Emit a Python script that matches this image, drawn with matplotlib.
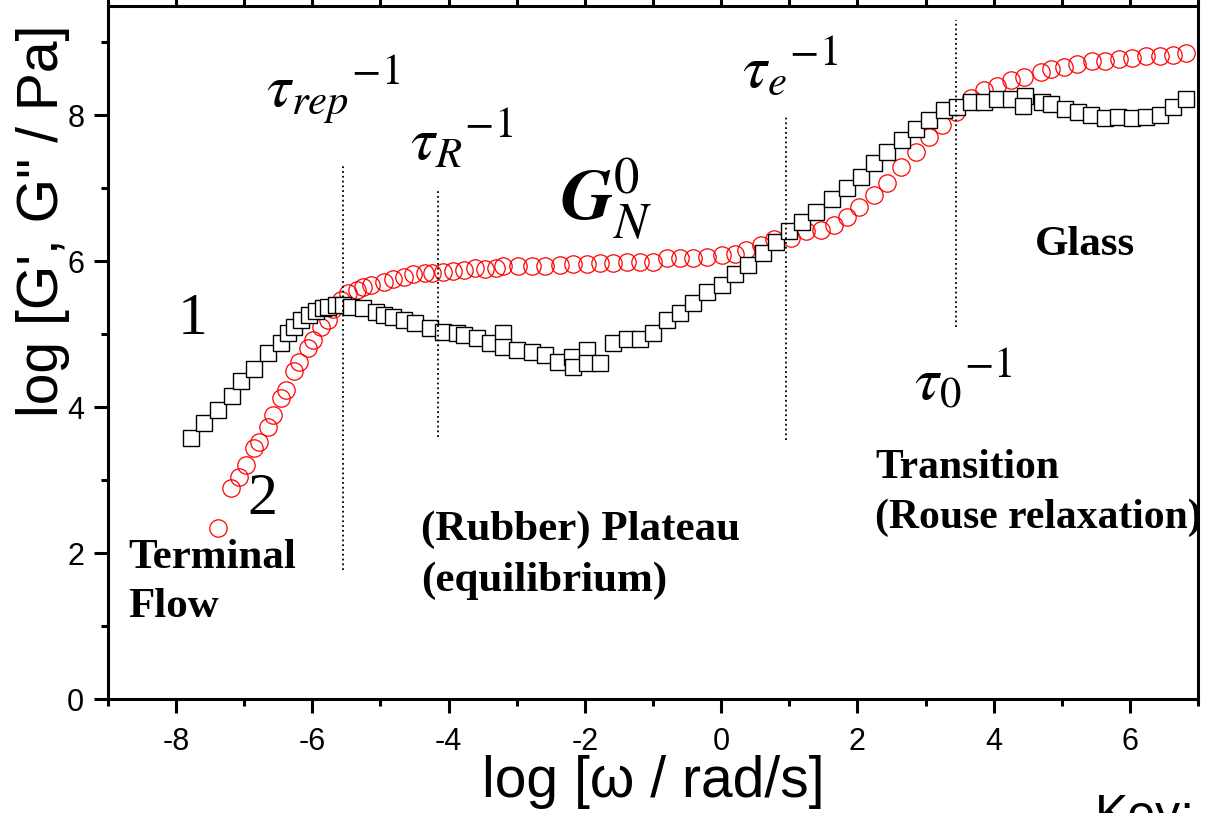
import matplotlib
matplotlib.use('Agg')
import matplotlib.pyplot as plt
from matplotlib.ticker import MultipleLocator

plt.rcParams['font.family'] = 'Liberation Sans'
plt.rcParams['mathtext.fontset'] = 'stix'
plt.rcParams['axes.unicode_minus'] = False

# curve 1: G' (squares)
gp_x = [-7.78, -7.59, -7.39, -7.18, -7.05, -6.86, -6.65, -6.46, -6.36, -6.27,
        -6.17, -6.05, -5.95, -5.85, -5.77, -5.66, -5.55, -5.44, -5.26, -5.07,
        -4.95, -4.82, -4.66, -4.49, -4.27, -4.08, -3.87, -3.78, -3.58, -3.39,
        -3.20, -3.20, -2.99, -2.77, -2.58, -2.39, -2.19, -2.17, -1.97, -1.97,
        -1.78, -1.59, -1.38, -1.19, -1.00, -0.80, -0.61, -0.42, -0.21, 0.01,
        0.20, 0.39, 0.61, 0.81, 1.00, 1.19, 1.40, 1.63, 1.85, 2.06,
        2.25, 2.44, 2.66, 2.86, 3.05, 3.27, 3.46, 3.67, 3.86, 4.05,
        4.25, 4.46, 4.43, 4.71, 4.84, 5.05, 5.24, 5.43, 5.63, 5.82,
        6.03, 6.23, 6.44, 6.64, 6.83]
gp_y = [3.58, 3.79, 3.96, 4.16, 4.36, 4.53, 4.75, 4.88, 5.02, 5.10,
        5.20, 5.27, 5.32, 5.36, 5.38, 5.40, 5.40, 5.38, 5.36, 5.31,
        5.27, 5.24, 5.20, 5.16, 5.09, 5.03, 5.02, 4.99, 4.95, 4.88,
        5.02, 4.83, 4.79, 4.76, 4.72, 4.62, 4.69, 4.55, 4.79, 4.61,
        4.61, 4.88, 4.94, 4.94, 5.02, 5.20, 5.29, 5.43, 5.58, 5.68,
        5.82, 5.95, 6.12, 6.26, 6.41, 6.54, 6.68, 6.85, 7.01, 7.16,
        7.35, 7.50, 7.67, 7.81, 7.94, 8.08, 8.11, 8.18, 8.19, 8.22,
        8.23, 8.26, 8.13, 8.19, 8.16, 8.09, 8.05, 8.01, 7.96, 7.98,
        7.97, 7.98, 8.00, 8.11, 8.22]

# curve 2: G'' (circles)
gpp_x = [-7.39, -7.19, -7.08, -6.98, -6.86, -6.78, -6.65, -6.58, -6.46, -6.39,
         -6.27, -6.20, -6.07, -5.99, -5.88, -5.77, -5.69, -5.58, -5.47, -5.34,
         -5.26, -5.14, -4.95, -4.81, -4.66, -4.52, -4.34, -4.24, -4.08, -3.93,
         -3.78, -3.61, -3.46, -3.31, -3.20, -2.98, -2.77, -2.58, -2.36, -2.17,
         -1.97, -1.78, -1.59, -1.38, -1.19, -1.00, -0.80, -0.61, -0.42, -0.20,
         0.01, 0.20, 0.37, 0.59, 0.78, 1.03, 1.25, 1.47, 1.66, 1.85,
         2.03, 2.25, 2.44, 2.64, 2.86, 3.05, 3.24, 3.45, 3.67, 3.86,
         4.05, 4.25, 4.45, 4.69, 4.84, 5.03, 5.22, 5.44, 5.63, 5.84,
         6.03, 6.23, 6.44, 6.63, 6.83]
gpp_y = [2.35, 2.89, 3.05, 3.21, 3.44, 3.53, 3.73, 3.90, 4.13, 4.24,
         4.49, 4.62, 4.81, 4.92, 5.10, 5.20, 5.34, 5.47, 5.57, 5.61,
         5.65, 5.68, 5.72, 5.76, 5.79, 5.82, 5.84, 5.84, 5.86, 5.87,
         5.88, 5.91, 5.90, 5.91, 5.93, 5.93, 5.94, 5.94, 5.95, 5.97,
         5.97, 5.98, 5.98, 5.99, 5.99, 5.99, 6.05, 6.05, 6.05, 6.06,
         6.08, 6.10, 6.16, 6.23, 6.30, 6.32, 6.41, 6.43, 6.50, 6.61,
         6.75, 6.91, 7.08, 7.30, 7.50, 7.70, 7.87, 8.05, 8.24, 8.35,
         8.40, 8.49, 8.53, 8.59, 8.64, 8.67, 8.71, 8.74, 8.75, 8.78,
         8.79, 8.81, 8.81, 8.83, 8.85]

# relaxation time markers (dotted lines)
tau_x = [-5.55, -4.16, 0.95, 3.45]
tau_ymin = [1.77, 3.59, 3.55, 5.10]
tau_ymax = [7.33, 6.98, 8.01, 9.31]

fig = plt.figure(figsize=(12.05, 8.13), dpi=100)
ax = fig.add_axes([0.0896, 0.1402, 0.9046, 0.8524])

ax.plot(gpp_x, gpp_y, 'o', mfc='none', mec='red', ms=12.5, mew=0.9, ls='none')
ax.plot(gp_x, gp_y, 's', mfc='white', mec='black', ms=12, mew=1.0, ls='none')
ax.vlines(tau_x, tau_ymin, tau_ymax, colors='black', linestyles=':', lw=1.3)

ax.set_xlim(-9, 7)
ax.set_ylim(0, 9.5)
ax.xaxis.set_major_locator(MultipleLocator(2))
ax.xaxis.set_minor_locator(MultipleLocator(1))
ax.yaxis.set_major_locator(MultipleLocator(2))
ax.yaxis.set_minor_locator(MultipleLocator(1))
ax.tick_params(which='both', direction='out', width=2.2, top=True, right=False, labelsize=22)
ax.tick_params(which='major', length=10)
ax.tick_params(which='minor', length=5)
ax.tick_params(axis='x', pad=10)
ax.tick_params(axis='y', pad=7)
for s in ax.spines.values():
    s.set_linewidth(2.2)

ax.set_xlabel('log [\u03c9 / rad/s]', fontsize=41)
ax.xaxis.set_label_coords(0.5, -0.12)
ax.xaxis.label.set_va('center')
ax.set_ylabel('log [G\', G" / Pa]', fontsize=41)
ax.yaxis.set_label_coords(-0.06, 0.69)
ax.yaxis.label.set_va('center')

# annotations
serif = 'Liberation Serif'
ax.text(-6.68, 8.12, r'$\tau_{rep}{}^{-1}$', fontsize=44, va='baseline')
ax.text(-4.56, 7.40, r'$\tau_{R}{}^{-1}$', fontsize=44, va='baseline')
ax.text(0.30, 8.40, r'$\tau_{e}{}^{-1}$', fontsize=44, va='baseline')
ax.text(2.83, 4.11, r'$\tau_{0}{}^{-1}$', fontsize=44, va='baseline')
ax.text(-2.36, 6.57, r'$\mathbfit{G}_{N}^{0}$', fontsize=52, va='baseline')

ax.text(-7.75, 5.2, '1', fontsize=43, family=serif, ha='center', va='center')
ax.text(-6.73, 2.73, '2', fontsize=43, family=serif, ha='center', va='center')

ax.text(-8.70, 2.20, 'Terminal\nFlow', fontsize=31, family=serif, weight='bold',
        va='top', linespacing=1.4)
ax.text(-4.41, 2.58, '(Rubber) Plateau\n(equilibrium)', fontsize=31, family=serif,
        weight='bold', va='top', linespacing=1.4)
ax.text(2.26, 3.43, 'Transition\n(Rouse relaxation)', fontsize=30, family=serif,
        weight='bold', va='top', linespacing=1.4)
ax.text(4.60, 6.49, 'Glass', fontsize=31, family=serif, weight='bold', va='top')

fig.text(1095 / 1205, 1 - 794 / 813, 'Key:', fontsize=36, va='top')

fig.savefig('out.png', dpi=100)
